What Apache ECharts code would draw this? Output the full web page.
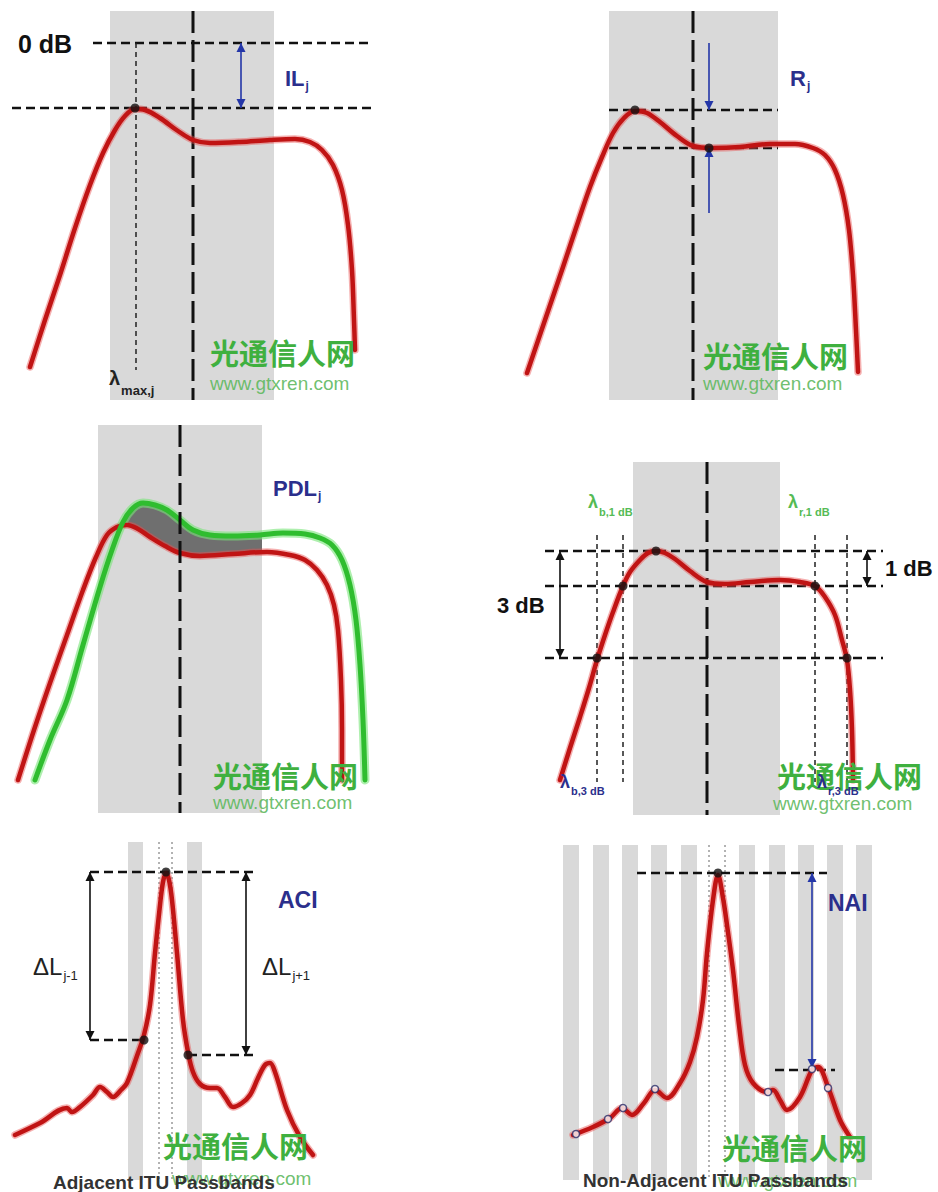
<!DOCTYPE html>
<html><head><meta charset="utf-8">
<script src="https://cdn.jsdelivr.net/npm/echarts@6.0.0/dist/echarts.min.js"></script>
<style>html,body{margin:0;padding:0;background:#fff}#c{width:938px;height:1192px}</style>
</head><body><div id="c"></div><script>
// ---------- DATA (panel-local units: x = wavelength offset, y = loss, downward) ----------
// Panel 1 : insertion loss
const p1Curve = [[30,367],[45,320],[60,275],[75,228],[90,185],[103,153],[115,130],[125,116],[135,109],[145,110],[160,118],[178,131],[193,140],[210,143],[240,142],[270,140],[295,139],[310,142],[322,150],[333,165],[342,190],[348,225],[352,270],[354,320],[355,350]];
const p1Bands = [[110,274,11,400]];
const p1Center = [[193,11,193,400]];
const p1Levels = [[93,43,372,43],[12,108,372,108]];
const p1Dotted = [[136,43,136,370]];
const p1Arrows = [[241,43,108]];
const p1Dots = [[135,108]];
// Panel 2 : ripple
const p2Curve = [[58,373],[76,320],[94,267],[109,222],[121,187],[133,157],[144,133],[155,118],[166,111],[178,113],[191,122],[208,136],[224,146],[244,148],[271,147],[301,144],[326,144],[344,148],[356,155],[366,170],[374,195],[380,230],[384,275],[387,330],[389,372]];
const p2Bands = [[140,309,11,400]];
const p2Center = [[224,11,224,400]];
const p2Levels = [[140,110,309,110],[140,148,309,148]];
const p2Arrows = [[240,43,110],[240,213,148]];
const p2Dots = [[166,110],[240,148]];
// Panel 3 : PDL
const p3Green = [[35,380],[50,340],[67,300],[83,245],[100,187],[112,150],[123,122],[133,108],[143,103],[155,105],[167,110],[180,120],[193,130],[210,135],[233,136],[260,135],[283,133],[305,134],[320,138],[332,145],[342,160],[350,185],[356,220],[360,265],[363,320],[365,380]];
const p3Red = [[18,380],[34,330],[50,283],[67,235],[83,190],[96,157],[107,135],[117,127],[127,125],[138,129],[150,137],[165,146],[180,153],[200,156],[233,154],[267,152],[290,155],[305,160],[317,170],[327,185],[334,205],[338,230],[341,280],[342,330],[342,380]];
const p3ShadeTop = [[118,127],[125,116],[133,108],[143,103],[155,105],[167,110],[180,120],[193,130],[210,135],[233,136],[262,135]];
const p3ShadeBottom = [[118,127],[127,125],[138,129],[150,137],[165,146],[180,153],[200,156],[233,154],[262,152]];
const p3Bands = [[98,262,25,413]];
const p3Center = [[180,25,180,413]];
// Panel 4 : 1 dB / 3 dB bandwidth
const p4Curve = [[91,380],[101,348],[111,317],[120,288],[128,260],[136,235],[144,212],[154,186],[161,172],[171,160],[179,153],[187,151],[196,153],[206,159],[221,171],[238,182],[256,184],[281,182],[311,180],[331,182],[346,186],[356,197],[366,215],[373,240],[378,260],[381,290],[383,330],[384,380]];
const p4Bands = [[164,311,62,415]];
const p4Center = [[238,62,238,415]];
const p4Levels = [[76,151,414,151],[76,186,414,186],[76,258,414,258]];
const p4Dotted = [[128,135,128,382],[154,135,154,382],[346,135,346,382],[378,135,378,382]];
const p4Arrows = [[91,151,258],[398,151,186]];
const p4Dots = [[187,151],[154,186],[346,186],[128,258],[378,258]];
// Panel 5 : adjacent channel isolation
const p5Curve = [[15,315],[40,303],[67,288],[72,292],[80,287],[93,275],[100,267],[107,272],[113,277],[121,270],[127,263],[138,233],[144,215],[150,185],[155,133],[160,85],[163,62],[166,53],[169,60],[172,80],[177,133],[183,200],[188,232],[193,252],[200,264],[210,268],[217,268],[225,277],[233,287],[242,283],[250,275],[258,258],[265,245],[270,243],[275,252],[287,290],[300,317],[313,335]];
const p5Bands = [[128,143,22,360],[187,202,22,360]];
const p5Fine = [[159,22,159,360],[172,22,172,360]];
const p5Levels = [[90,52,253,52],[90,220,145,220],[188,235,253,235]];
const p5Arrows = [[90,52,220],[246,52,235]];
const p5Dots = [[166,52],[144,220],[188,235]];
// Panel 6 : non-adjacent channel isolation
const p6Curve = [[104,315],[124,307],[141,298],[153,288],[163,295],[175,283],[186,270],[198,278],[211,263],[221,242],[228,217],[234,180],[238,133],[244,80],[249,55],[254,78],[258,105],[264,150],[270,205],[276,245],[284,263],[298,272],[304,270],[311,280],[318,290],[331,277],[343,250],[349,247],[359,267],[371,300],[381,317]];
const p6Bands = [[94,110,25,360],[124,140,25,360],[153,169,25,360],[182,198,25,360],[212,228,25,360],[270,286,25,360],[300,316,25,360],[329,345,25,360],[358,374,25,360],[387,403,25,360]];
const p6Fine = [[240,25,240,360],[256,25,256,360]];
const p6Levels = [[168,53,358,53],[306,250,366,250]];
const p6Arrows = [[343,53,248]];
const p6Dots = [[249,53]];
const p6Samples = [[107,314],[139,299],[154,288],[186,269],[299,272],[343,249],[359,268]];

// ---------- LAYOUT ----------
const PANELS = [
  {left:0, top:0, w:469, h:400}, {left:469, top:0, w:469, h:400},
  {left:0, top:400, w:469, h:420}, {left:469, top:400, w:469, h:420},
  {left:0, top:820, w:469, h:372}, {left:469, top:820, w:469, h:372}
];
const RED = '#c01414', RED_HALO = 'rgba(232,80,80,0.45)';
const GREEN = '#2fbd2f', GREEN_HALO = 'rgba(120,228,120,0.6)';
const NAVY = '#2b2f8c', BLUE = '#2436a8', BAND = '#d9d9d9';
const ST = {
  center: {color:'#111', width:3, dash:[22,7]},
  level: {color:'#111', width:2.5, dash:[9,5]},
  dotted: {color:'#222', width:1.5, dash:[5,4]},
  fine: {color:'#666', width:1, dash:[2,3]}
};

const grids=[], xAxes=[], yAxes=[], series=[];
PANELS.forEach((p,i)=>{
  grids.push({left:p.left, top:p.top, width:p.w, height:p.h, show:false});
  xAxes.push({type:'value', gridIndex:i, min:0, max:p.w, show:false});
  yAxes.push({type:'value', gridIndex:i, min:0, max:p.h, inverse:true, show:false});
});
const ax = i => ({xAxisIndex:i, yAxisIndex:i, silent:true, animation:false});

function bands(i, data, color){
  series.push(Object.assign(ax(i), {type:'custom', z:1, data, encode:{x:[0,1], y:[2,3]},
    renderItem:(pr, api)=>{
      const a=api.coord([api.value(0), api.value(2)]), b=api.coord([api.value(1), api.value(3)]);
      return {type:'rect', shape:{x:Math.min(a[0],b[0]), y:Math.min(a[1],b[1]), width:Math.abs(b[0]-a[0]), height:Math.abs(b[1]-a[1])}, style:{fill:color}};
    }}));
}
function segs(i, data, st, z){
  series.push(Object.assign(ax(i), {type:'custom', z:z||2, data, encode:{x:[0,2], y:[1,3]},
    renderItem:(pr, api)=>{
      const a=api.coord([api.value(0), api.value(1)]), b=api.coord([api.value(2), api.value(3)]);
      return {type:'line', shape:{x1:a[0],y1:a[1],x2:b[0],y2:b[1]}, style:{stroke:st.color, lineWidth:st.width, lineDash:st.dash, fill:null}};
    }}));
}
function headPts(tip, from, L, Wd){
  const dx=tip[0]-from[0], dy=tip[1]-from[1], n=Math.hypot(dx,dy)||1;
  const ux=dx/n, uy=dy/n, bx=tip[0]-ux*L, by=tip[1]-uy*L;
  return [[tip[0],tip[1]],[bx-uy*Wd, by+ux*Wd],[bx+uy*Wd, by-ux*Wd]];
}
function arrows(i, data, color, both){
  series.push(Object.assign(ax(i), {type:'custom', z:6, data, encode:{x:[0], y:[1,2]},
    renderItem:(pr, api)=>{
      const a=api.coord([api.value(0), api.value(1)]), b=api.coord([api.value(0), api.value(2)]);
      const ch=[{type:'line', shape:{x1:a[0],y1:a[1],x2:b[0],y2:b[1]}, style:{stroke:color, lineWidth:1.6}}];
      ch.push({type:'polygon', shape:{points:headPts(b,a,9,4.5)}, style:{fill:color}});
      if(both) ch.push({type:'polygon', shape:{points:headPts(a,b,9,4.5)}, style:{fill:color}});
      return {type:'group', children:ch};
    }}));
}
function curve(i, data, color, halo, w, hw, z){
  series.push(Object.assign(ax(i), {type:'line', z:z||3, data, smooth:0.35, showSymbol:false, symbol:'none', lineStyle:{color:halo, width:hw, cap:'round', join:'round'}}));
  series.push(Object.assign(ax(i), {type:'line', z:(z||3)+1, data, smooth:0.35, showSymbol:false, symbol:'none', lineStyle:{color:color, width:w, cap:'round', join:'round'}}));
}
function dots(i, data, size){
  series.push(Object.assign(ax(i), {type:'scatter', z:7, data, symbol:'circle', symbolSize:size||9, itemStyle:{color:'#111'}}));
}
function polygonArea(i, top, bottom, color){
  series.push(Object.assign(ax(i), {type:'custom', z:2, data:[[top[0][0], top[0][1]]],
    renderItem:(pr, api)=>{
      const pts = top.concat(bottom.slice().reverse()).map(p=>api.coord(p));
      return {type:'polygon', shape:{points:pts}, style:{fill:color}};
    }}));
}

// Panel 1
bands(0,p1Bands,BAND); segs(0,p1Center,ST.center); segs(0,p1Levels,ST.level); segs(0,p1Dotted,ST.dotted);
curve(0,p1Curve,RED,RED_HALO,4.5,7.5); arrows(0,p1Arrows,BLUE,true); dots(0,p1Dots);
// Panel 2
bands(1,p2Bands,BAND); segs(1,p2Center,ST.center); segs(1,p2Levels,ST.level);
curve(1,p2Curve,RED,RED_HALO,4.5,7.5); arrows(1,p2Arrows,BLUE,false); dots(1,p2Dots);
// Panel 3
bands(2,p3Bands,BAND); polygonArea(2,p3ShadeTop,p3ShadeBottom,'#6f6f6f'); segs(2,p3Center,ST.center,5);
curve(2,p3Red,RED,RED_HALO,4.5,7.5); curve(2,p3Green,GREEN,GREEN_HALO,5,9);
// Panel 4
bands(3,p4Bands,BAND); segs(3,p4Center,ST.center); segs(3,p4Levels,ST.level); segs(3,p4Dotted,ST.dotted);
curve(3,p4Curve,RED,RED_HALO,4.5,7.5); arrows(3,p4Arrows,'#111',true); dots(3,p4Dots);
// Panel 5
bands(4,p5Bands,BAND); segs(4,p5Fine,ST.fine); segs(4,p5Levels,ST.level);
curve(4,p5Curve,RED,RED_HALO,4.5,7.5); arrows(4,p5Arrows,'#111',true); dots(4,p5Dots);
// Panel 6
bands(5,p6Bands,BAND); segs(5,p6Fine,ST.fine); segs(5,p6Levels,ST.level);
curve(5,p6Curve,RED,RED_HALO,4.5,7.5); arrows(5,p6Arrows,BLUE,true); dots(5,p6Dots);
series.push(Object.assign(ax(5), {type:'scatter', z:8, data:p6Samples, symbol:'circle', symbolSize:7, itemStyle:{color:'#fff', borderColor:'#2b2f6c', borderWidth:1.5}}));

// ---------- TEXT ----------
const FONT = '"Liberation Sans", Arial, sans-serif';
const mctx = document.createElement('canvas').getContext('2d');
function measure(text, font){ mctx.font = font; return mctx.measureText(text).width; }
const graphic = [];
function T(x, y, text, size, color, bold){
  const font = (bold?'bold ':'') + size + 'px ' + FONT;
  graphic.push({type:'text', x, y, z:20, silent:true, style:{text, font, fill:color, align:'left', textAlign:'left', verticalAlign:'middle', textVerticalAlign:'middle'}});
  return measure(text, font);
}
function TS(x, y, main, sub, size, subSize, color, bold, subDy){
  const w = T(x, y, main, size, color, bold);
  T(x + w + 1, y + subDy, sub, subSize, color, bold);
}
function WM(x, y, ux, uy){
  graphic.push({type:'text', x, y, z:15, silent:true, style:{text:'光通信人网', font:'bold 29px "Noto Sans CJK SC", sans-serif', fill:'#3fb03f', align:'left', textAlign:'left', verticalAlign:'middle', textVerticalAlign:'middle'}});
  graphic.push({type:'text', x:ux, y:uy, z:15, silent:true, style:{text:'www.gtxren.com', font:'19px ' + FONT, fill:'#5db85d', opacity:0.9, align:'left', textAlign:'left', verticalAlign:'middle', textVerticalAlign:'middle'}});
}
// Panel 1
T(18, 44, '0 dB', 25, '#111', true);
TS(285, 78, 'IL', 'j', 22, 12, NAVY, true, 8);
TS(109, 378, 'λ', 'max,j', 20, 13, '#222', true, 12);
WM(210, 352, 210, 383);
// Panel 2
TS(790, 78, 'R', 'j', 22, 12, NAVY, true, 8);
WM(703, 355, 703, 383);
// Panel 3
TS(273, 488, 'PDL', 'j', 22, 12, NAVY, true, 8);
WM(213, 775, 213, 802);
// Panel 4
T(885, 568, '1 dB', 22, '#111', true);
T(497, 605, '3 dB', 22, '#111', true);
TS(588, 502, 'λ', 'b,1 dB', 18, 11, '#55bb55', true, 10);
TS(788, 502, 'λ', 'r,1 dB', 18, 11, '#55bb55', true, 10);
WM(777, 775, 773, 803);
TS(560, 782, 'λ', 'b,3 dB', 18, 11, NAVY, true, 9);
TS(817, 782, 'λ', 'r,3 dB', 18, 11, NAVY, true, 9);
// Panel 5
TS(33, 966, 'ΔL', 'j-1', 24, 13, '#222', false, 9);
TS(262, 966, 'ΔL', 'j+1', 24, 13, '#222', false, 9);
T(278, 900, 'ACI', 23, NAVY, true);
WM(163, 1145, 172, 1178);
T(53, 1182, 'Adjacent ITU Passbands', 19, '#333', true);
// Panel 6
T(828, 903, 'NAI', 23, NAVY, true);
WM(722, 1147, 718, 1180);
T(583, 1180, 'Non-Adjacent ITU Passbands', 19, '#333', true);

const chart = echarts.init(document.getElementById('c'), null, {renderer:'svg'});
chart.setOption({animation:false, backgroundColor:'#fff', grid:grids, xAxis:xAxes, yAxis:yAxes, series, graphic});
</script></body></html>
